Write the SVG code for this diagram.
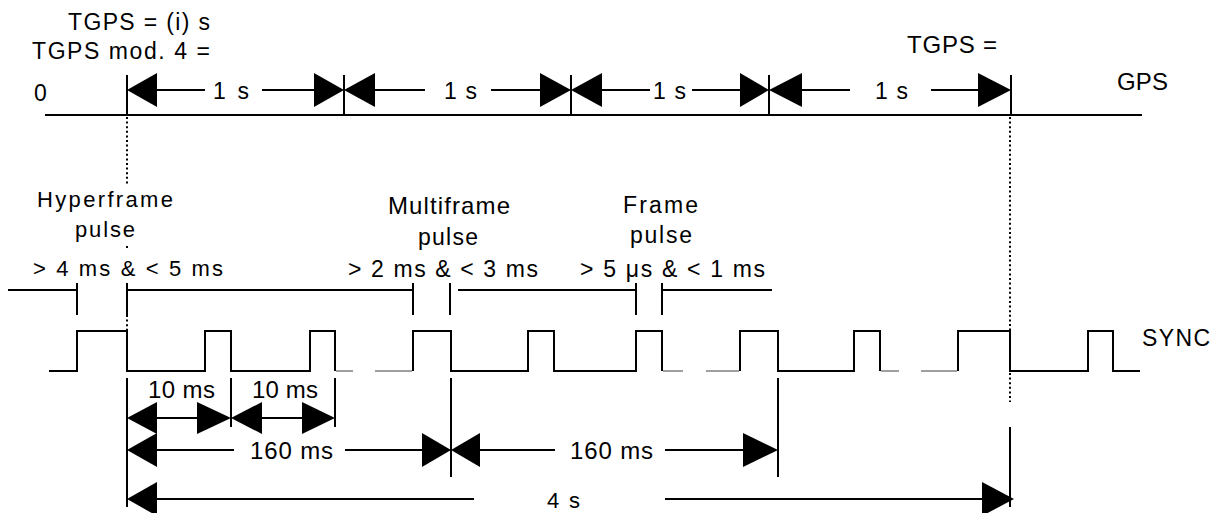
<svg xmlns="http://www.w3.org/2000/svg" width="1226" height="513" viewBox="0 0 1226 513">
<style>
text{font-family:"Liberation Sans",Arial,sans-serif;fill:#000}
.ln{stroke:#000;stroke-width:2;fill:none}
.gr{stroke:#808080;stroke-width:1.6;fill:none}
.dot{stroke:#000;stroke-width:2;stroke-dasharray:2 2.6;fill:none}
.ah{fill:#000;stroke:none}
</style>
<rect width="1226" height="513" fill="#fff"/>

<g id="gps-labels">
<text x="68" y="30" font-size="23" textLength="142">TGPS = (i) s</text>
<text x="32" y="59" font-size="23" textLength="178">TGPS mod. 4 =</text>
<text x="34" y="101" font-size="23">0</text>
<text x="907" y="53" font-size="24" textLength="90">TGPS =</text>
<text x="1117" y="90" font-size="24" textLength="51">GPS</text>
</g>

<g id="gps-axis">
<line class="ln" x1="45" y1="115" x2="1142" y2="115"/>
<line class="ln" x1="127" y1="75" x2="127" y2="115"/>
<line class="ln" x1="344" y1="75" x2="344" y2="115"/>
<line class="ln" x1="571" y1="75" x2="571" y2="115"/>
<line class="ln" x1="769" y1="75" x2="769" y2="115"/>
<line class="ln" x1="1011" y1="75" x2="1011" y2="115"/>
</g>

<g id="connectors">
<polygon class="ah" points="127,90 157,73 157,107"/>
<line class="ln" x1="157" y1="90" x2="205" y2="90"/>
<line class="ln" x1="262" y1="90" x2="314" y2="90"/>
<polygon class="ah" points="314,73 344,90 314,107"/>
<polygon class="ah" points="344,90 375,73 375,107"/>
<line class="ln" x1="375" y1="90" x2="425" y2="90"/>
<line class="ln" x1="491" y1="90" x2="540" y2="90"/>
<polygon class="ah" points="540,73 571,90 540,107"/>
<polygon class="ah" points="571,90 602,73 602,107"/>
<line class="ln" x1="602" y1="90" x2="650" y2="90"/>
<line class="ln" x1="692" y1="90" x2="740" y2="90"/>
<polygon class="ah" points="740,73 769,90 740,107"/>
<polygon class="ah" points="769,90 802,73 802,107"/>
<line class="ln" x1="802" y1="90" x2="850" y2="90"/>
<line class="ln" x1="931" y1="90" x2="978" y2="90"/>
<polygon class="ah" points="978,73 1011,90 978,107"/>

<line class="dot" x1="127" y1="117" x2="127" y2="186"/>
<line class="dot" x1="127" y1="246" x2="127" y2="250"/>
<line class="dot" x1="127" y1="315" x2="127" y2="331"/>
<line class="dot" x1="1010" y1="117" x2="1010" y2="331"/>
<line class="dot" x1="1010" y1="373" x2="1010" y2="402"/>

<line class="ln" x1="8" y1="290" x2="77" y2="290"/>
<line class="ln" x1="127" y1="290" x2="413" y2="290"/>
<line class="ln" x1="458" y1="290" x2="636" y2="290"/>
<line class="ln" x1="662" y1="290" x2="772" y2="290"/>
<line class="ln" x1="77" y1="283" x2="77" y2="315"/>
<line class="ln" x1="127" y1="283" x2="127" y2="315"/>
<line class="ln" x1="413" y1="283" x2="413" y2="315"/>
<line class="ln" x1="450" y1="283" x2="450" y2="315"/>
<line class="ln" x1="636" y1="283" x2="636" y2="315"/>
<line class="ln" x1="662" y1="283" x2="662" y2="315"/>

<line class="ln" x1="127" y1="378" x2="127" y2="507"/>
<line class="ln" x1="231" y1="378" x2="231" y2="427"/>
<line class="ln" x1="335" y1="378" x2="335" y2="427"/>
<line class="ln" x1="451" y1="378" x2="451" y2="477"/>
<line class="ln" x1="778" y1="378" x2="778" y2="477"/>
<line class="ln" x1="1010" y1="427" x2="1010" y2="507"/>

<polygon class="ah" points="127,418 157,402 157,434"/>
<line class="ln" x1="157" y1="418" x2="197" y2="418"/>
<polygon class="ah" points="197,402 231,418 197,434"/>
<polygon class="ah" points="231,418 262,402 262,434"/>
<line class="ln" x1="262" y1="418" x2="302" y2="418"/>
<polygon class="ah" points="302,402 335,418 302,434"/>

<polygon class="ah" points="127,450 157,433 157,467"/>
<line class="ln" x1="157" y1="450" x2="234" y2="450"/>
<line class="ln" x1="345" y1="450" x2="422" y2="450"/>
<polygon class="ah" points="422,433 451,450 422,467"/>
<polygon class="ah" points="451,450 480,433 480,467"/>
<line class="ln" x1="480" y1="450" x2="555" y2="450"/>
<line class="ln" x1="665" y1="450" x2="743" y2="450"/>
<polygon class="ah" points="743,433 778,450 743,467"/>

<polygon class="ah" points="127,499 157,482 157,516"/>
<line class="ln" x1="157" y1="499" x2="474" y2="499"/>
<line class="ln" x1="665" y1="499" x2="982" y2="499"/>
<polygon class="ah" points="982,482 1014,499 982,516"/>
</g>

<g id="sync-wave">
<path class="ln" d="M49,371 H77 V331 H127 V371 H205 V331 H231 V371 H310 V331 H335 V371"/>
<path class="gr" d="M336,371 H353 M375,371 H412"/>
<path class="ln" d="M413,371 V331 H451 V371 H528 V331 H554 V371 H636 V331 H662 V371"/>
<path class="gr" d="M663,371 H683 M706,371 H739"/>
<path class="ln" d="M740,371 V331 H778 V371 H854 V331 H880 V371"/>
<path class="gr" d="M881,371 H899 M921,371 H957"/>
<path class="ln" d="M958,371 V331 H1010 V371 H1088 V331 H1113 V371 H1140"/>
<text x="1142" y="346" font-size="23" textLength="68">SYNC</text>
</g>

<g id="hyperframe-label">
<text x="37" y="207" font-size="22" textLength="136">Hyperframe</text>
<text x="75" y="237" font-size="22" textLength="60">pulse</text>
<text x="33" y="276" font-size="22" textLength="190">&gt; 4 ms &amp; &lt; 5 ms</text>
</g>

<g id="multiframe-label">
<text x="388" y="214" font-size="24" textLength="122">Multiframe</text>
<text x="418" y="245" font-size="23" textLength="60">pulse</text>
<text x="348" y="277" font-size="23" textLength="190">&gt; 2 ms &amp; &lt; 3 ms</text>
</g>

<g id="frame-label">
<text x="623" y="213" font-size="23" textLength="75">Frame</text>
<text x="630" y="243" font-size="23" textLength="62">pulse</text>
<text x="580" y="277" font-size="23" textLength="185">&gt; 5 μs &amp; &lt; 1 ms</text>
</g>

<g id="measure-labels">
<text x="213" y="99" font-size="23" textLength="36">1 s</text>
<text x="444" y="99" font-size="23" textLength="33">1 s</text>
<text x="653" y="99" font-size="23" textLength="33">1 s</text>
<text x="875" y="99" font-size="23" textLength="33">1 s</text>
<text x="148" y="398" font-size="24" textLength="67">10 ms</text>
<text x="252" y="398" font-size="24" textLength="66">10 ms</text>
<text x="250" y="459" font-size="24" textLength="83">160 ms</text>
<text x="570" y="459" font-size="24" textLength="83">160 ms</text>
<text x="547" y="508" font-size="22" textLength="33">4 s</text>
</g>
</svg>
